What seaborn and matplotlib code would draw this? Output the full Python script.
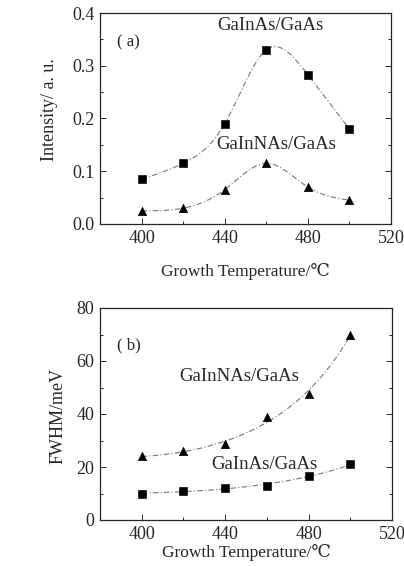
import matplotlib
matplotlib.use("Agg")
import matplotlib.pyplot as plt
from matplotlib.ticker import MultipleLocator, FormatStrFormatter
import seaborn as sns
import numpy as np
import pandas as pd

# growth temperatures (C)
temps = [400, 420, 440, 460, 480, 500]

# (a) PL intensity, a.u.
int_gainas = [0.085, 0.115, 0.19, 0.33, 0.283, 0.18]
int_gainnas = [0.025, 0.030, 0.065, 0.115, 0.070, 0.045]

# (b) FWHM, meV
fwhm_gainnas = [24, 26, 28.5, 39, 47.5, 70]
fwhm_gainas = [10, 11, 12, 13, 16.5, 21]

x_ticks = [400, 440, 480, 520]
FONT = ["Liberation Serif", "DejaVu Serif"]
DASHDOT = (0, (5, 2, 1, 2))


def natural_spline(x, y, xs):
    """Natural cubic spline through the data points."""
    x = np.asarray(x, float)
    y = np.asarray(y, float)
    n = len(x)
    h = np.diff(x)
    A = np.zeros((n, n))
    r = np.zeros(n)
    A[0, 0] = A[-1, -1] = 1
    for i in range(1, n - 1):
        A[i, i - 1] = h[i - 1]
        A[i, i] = 2 * (h[i - 1] + h[i])
        A[i, i + 1] = h[i]
        r[i] = 6 * ((y[i + 1] - y[i]) / h[i] - (y[i] - y[i - 1]) / h[i - 1])
    m = np.linalg.solve(A, r)
    out = []
    for v in xs:
        i = max(min(np.searchsorted(x, v) - 1, n - 2), 0)
        t1, t2 = x[i + 1] - v, v - x[i]
        hi = h[i]
        out.append(m[i] * t1**3 / (6 * hi) + m[i + 1] * t2**3 / (6 * hi)
                   + (y[i] / hi - m[i] * hi / 6) * t1
                   + (y[i + 1] / hi - m[i + 1] * hi / 6) * t2)
    return np.array(out)


def log_fit(x, y, xs):
    c = np.polyfit(x, np.log(y), 2)
    return np.exp(np.polyval(c, xs))


sns.set_style("ticks")
plt.rcParams["font.family"] = FONT
plt.rcParams["font.size"] = 12
plt.rcParams["xtick.direction"] = "in"
plt.rcParams["ytick.direction"] = "in"

fig = plt.figure(figsize=(4.04, 5.66), dpi=100)
ax_a = fig.add_axes([100 / 404, 1 - 224 / 566, 291 / 404, 211 / 566])
ax_b = fig.add_axes([100 / 404, 1 - 520 / 566, 292 / 404, 212 / 566])

xs = np.linspace(400, 500, 200)

# ---- panel (a)
df_a = pd.DataFrame({"T": temps, "GaInAs": int_gainas, "GaInNAs": int_gainnas})
for col, mk, ms in [("GaInAs", "s", 30), ("GaInNAs", "^", 36)]:
    fit = pd.DataFrame({"T": xs, "y": natural_spline(temps, df_a[col], xs)})
    sns.lineplot(data=fit, x="T", y="y", ax=ax_a, color="#777777", lw=0.8,
                 linestyle=DASHDOT)
    sns.scatterplot(data=df_a, x="T", y=col, ax=ax_a, marker=mk, s=ms,
                    color="black", edgecolor="black", zorder=3)
ax_a.set_xlim(380, 520)
ax_a.set_ylim(0, 0.4)
ax_a.yaxis.set_major_locator(MultipleLocator(0.1))
ax_a.yaxis.set_major_formatter(FormatStrFormatter("%.1f"))
ax_a.yaxis.set_minor_locator(MultipleLocator(0.05))
ax_a.set_ylabel("Intensity/ a. u.", fontsize=13)
ax_a.yaxis.set_label_coords(-0.143, 0.54)
ax_a.set_xlabel("Growth Temperature/℃", fontsize=12.5, labelpad=12)
ax_a.text(0.096, 0.862, "( a)", transform=ax_a.transAxes, fontsize=12,
          ha="center", va="center")
ax_a.text(462, 0.377, "GaInAs/GaAs", ha="center", va="center", fontsize=13.5)
ax_a.text(465, 0.150, "GaInNAs/GaAs", ha="center", va="center", fontsize=13.5)

# ---- panel (b)
df_b = pd.DataFrame({"T": temps, "GaInNAs": fwhm_gainnas, "GaInAs": fwhm_gainas})
for col, mk, ms in [("GaInNAs", "^", 36), ("GaInAs", "s", 30)]:
    fit = pd.DataFrame({"T": xs, "y": log_fit(temps, df_b[col], xs)})
    sns.lineplot(data=fit, x="T", y="y", ax=ax_b, color="#777777", lw=0.8,
                 linestyle=DASHDOT)
    sns.scatterplot(data=df_b, x="T", y=col, ax=ax_b, marker=mk, s=ms,
                    color="black", edgecolor="black", zorder=3)
ax_b.set_xlim(380, 520)
ax_b.set_ylim(0, 80)
ax_b.yaxis.set_major_locator(MultipleLocator(20))
ax_b.yaxis.set_minor_locator(MultipleLocator(10))
ax_b.set_ylabel("FWHM/meV", fontsize=13)
ax_b.yaxis.set_label_coords(-0.115, 0.49)
ax_b.set_xlabel("Growth Temperature/℃", fontsize=12.5, labelpad=1)
ax_b.text(0.10, 0.825, "( b)", transform=ax_b.transAxes, fontsize=12,
          ha="center", va="center")
ax_b.text(446.5, 54, "GaInNAs/GaAs", ha="center", va="center", fontsize=13.5)
ax_b.text(459, 20.8, "GaInAs/GaAs", ha="center", va="center", fontsize=13.5)

for ax in (ax_a, ax_b):
    ax.set_xticks(x_ticks)
    ax.xaxis.set_minor_locator(MultipleLocator(20))
    ax.tick_params(which="both", right=True, top=False, width=0.7)
    ax.tick_params(which="major", length=4, labelsize=13, pad=4)
    ax.tick_params(which="minor", length=2.5)
    for s in ax.spines.values():
        s.set_visible(True)
        s.set_linewidth(0.9)

fig.savefig("out.png", dpi=100)
